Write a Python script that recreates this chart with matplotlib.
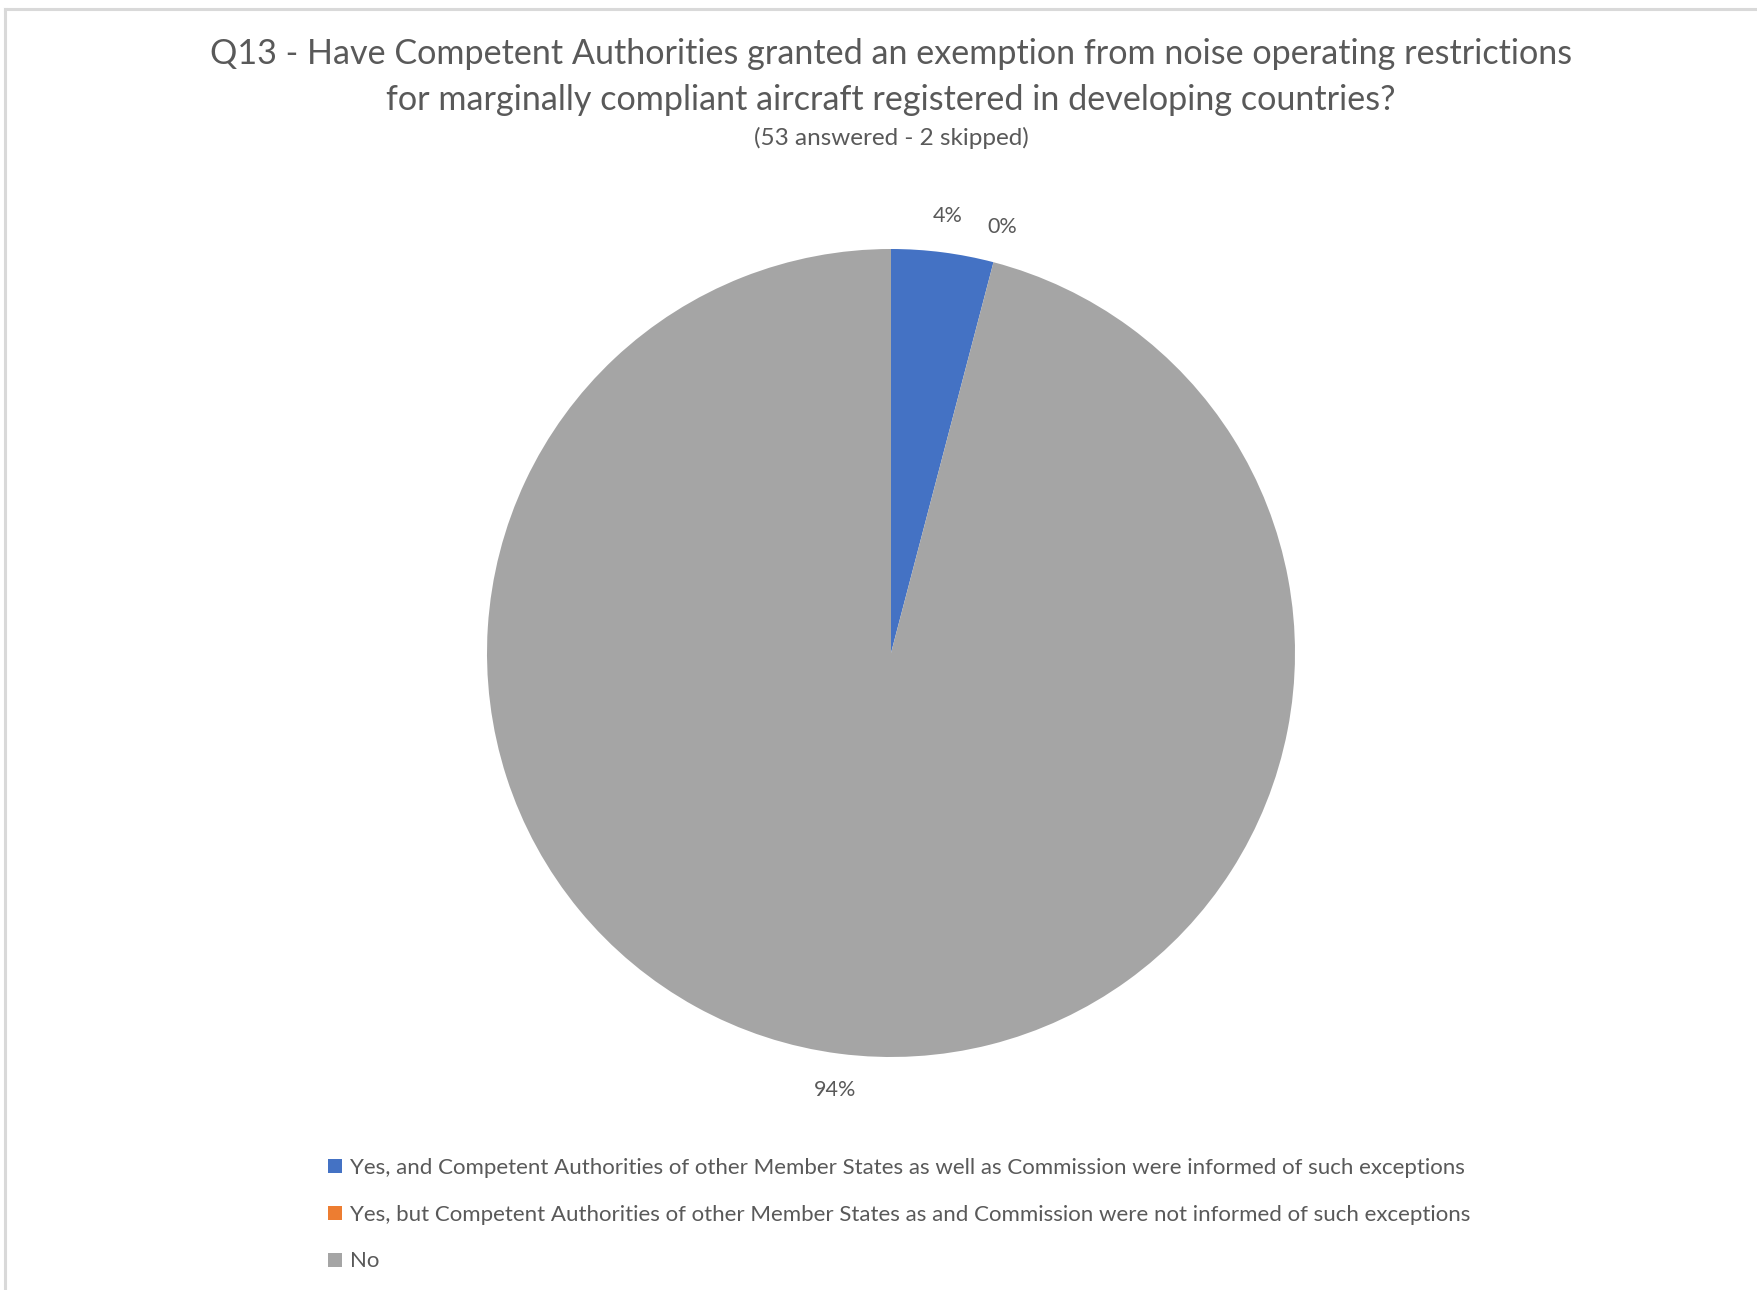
import matplotlib
matplotlib.use("Agg")
import matplotlib.pyplot as plt
from matplotlib.lines import Line2D
import numpy as np

plt.rcParams['font.family'] = ['Lato', 'DejaVu Sans']

# survey answers (percent of respondents)
categories = [
    "Yes, and Competent Authorities of other Member States as well as Commission were informed of such exceptions",
    "Yes, but Competent Authorities of other Member States as and Commission were not informed of such exceptions",
    "No",
]
shares = [4, 0, 94]
colors = ["#4472C4", "#ED7D31", "#A5A5A5"]

title = ("Q13 - Have Competent Authorities granted an exemption from noise operating restrictions\n"
         "for marginally compliant aircraft registered in developing countries?")
subtitle = "(53 answered - 2 skipped)"

TEXT = "#595959"
W, H = 1758, 1290
fig = plt.figure(figsize=(W / 100, H / 100), dpi=100)

# pie axes: centre (891, 653) px, radius 404 px
cx, cy, r = 891, 653, 404
ax = fig.add_axes([(cx - r) / W, (H - cy - r) / H, 2 * r / W, 2 * r / H])
wedges, _ = ax.pie(shares, colors=colors, startangle=90, counterclock=False,
                   radius=1.0, wedgeprops=dict(linewidth=0))
ax.set_xlim(-1, 1)
ax.set_ylim(-1, 1)
ax.set_aspect('equal')
ax.axis('off')

# data labels just outside each slice
for w, v in zip(wedges, shares):
    mid = np.deg2rad((w.theta1 + w.theta2) / 2)
    d = 1.09
    ax.text(d * np.cos(mid), d * np.sin(mid), f"{v}%", ha='center', va='center',
            fontsize=15.5, color=TEXT, clip_on=False)

fig.text(cx / W, 1 - 77 / H, title, ha='center', va='center', fontsize=24.6,
         color=TEXT, linespacing=1.55)
fig.text(cx / W, 1 - 138 / H, subtitle, ha='center', va='center', fontsize=17.5, color=TEXT)

handles = [Line2D([], [], marker='s', linestyle='none', markersize=10,
                  markerfacecolor=c, markeredgewidth=0) for c in colors]
fig.legend(handles, categories, loc='upper left', bbox_to_anchor=(326 / W, 1 - 1158 / H),
           frameon=False, fontsize=16, labelcolor=TEXT, handlelength=0.8,
           handletextpad=0.3, labelspacing=1.2, borderpad=0, borderaxespad=0)

# light frame on the top and left edges
fig.add_artist(Line2D([5 / W, 5 / W], [0, 1 - 9 / H], color="#D9D9D9", linewidth=2.2))
fig.add_artist(Line2D([5 / W, 1], [1 - 9 / H, 1 - 9 / H], color="#D9D9D9", linewidth=2.2))

fig.savefig("out.png", dpi=100, facecolor='white')
